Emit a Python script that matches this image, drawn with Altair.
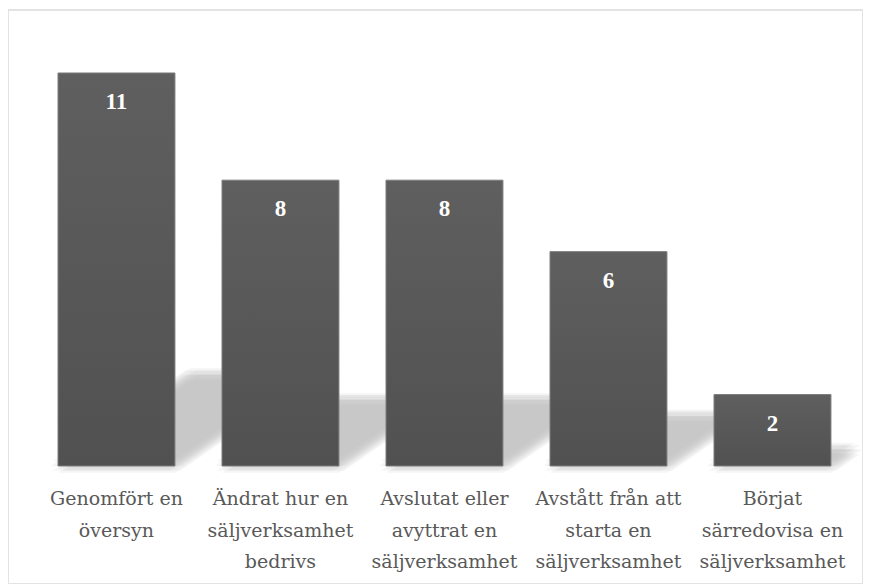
import altair as alt
import pandas as pd

categories = [
    "Genomfört en översyn",
    "Ändrat hur en säljverksamhet bedrivs",
    "Avslutat eller avyttrat en säljverksamhet",
    "Avstått från att starta en säljverksamhet",
    "Börjat särredovisa en säljverksamhet",
]
label_lines = [
    ["Genomfört en", "översyn"],
    ["Ändrat hur en", "säljverksamhet", "bedrivs"],
    ["Avslutat eller", "avyttrat en", "säljverksamhet"],
    ["Avstått från att", "starta en", "säljverksamhet"],
    ["Börjat", "särredovisa en", "säljverksamhet"],
]
values = [11, 8, 8, 6, 2]

# ---- layout: each category occupies [i, i + bar_frac] on a position scale ----
W, H = 855, 574
bar_frac = 0.713
u_domain = [-0.3049, 4.9085]
y_domain = [-3.3026, 12.763]

df = pd.DataFrame({
    "cat": categories,
    "value": values,
    "label": ["\n".join(l) for l in label_lines],
    "pos": list(range(len(categories))),
})
df["pos_end"] = df["pos"] + bar_frac
df["pos_mid"] = df["pos"] + bar_frac / 2

# ---- decorative soft shadow, derived from the values ----
shadow_h = 0.232    # shadow height per unit value (y units)
shadow_s = 0.0735   # shadow skew per unit value (position units)
blur = [(0, 0),
        (0.022, 0), (-0.022, 0), (0, 0.09), (0, -0.09),
        (0.045, 0), (-0.045, 0), (0, 0.19), (0, -0.19),
        (0.032, 0.13), (-0.032, -0.13), (0.032, -0.13), (-0.032, 0.13)]
rows = []
for i, v in enumerate(values):
    L, R = i, i + bar_frac
    h, s = shadow_h * v, shadow_s * v
    for k, (ox, oy) in enumerate(blur):
        for xx in sorted({L, R, L + s, R + s}):
            top = min(h, max(0.0, (xx - L) / s * h))
            bot = max(0.0, min(h, (xx - R) / s * h))
            rows.append({"u": xx + ox, "top": top + oy, "bot": bot + oy,
                         "grp": f"{i}-{k}"})
shadow_df = pd.DataFrame(rows)

x_scale = alt.Scale(domain=u_domain, nice=False, zero=False)
y_scale = alt.Scale(domain=y_domain, nice=False, zero=False)

shadow = alt.Chart(shadow_df).mark_area(
    color="#c4c4c4", opacity=0.15, interpolate="linear", orient="vertical"
).encode(
    x=alt.X("u:Q", axis=None, scale=x_scale),
    y=alt.Y("top:Q", scale=y_scale, axis=None, stack=None),
    y2="bot:Q",
    detail="grp:N",
)

bar_fill = alt.Gradient(
    gradient="linear",
    stops=[alt.GradientStop(color="#5f5f5f", offset=0),
           alt.GradientStop(color="#515151", offset=1)],
    x1=0, x2=0, y1=0, y2=1,
)

bars = alt.Chart(df).mark_rect(
    color=bar_fill, stroke="#7c7c7c", strokeWidth=1
).encode(
    x=alt.X("pos:Q", axis=None, scale=x_scale),
    x2="pos_end:Q",
    y=alt.Y("value:Q", scale=y_scale, axis=None),
    y2=alt.datum(0),
)

value_text = alt.Chart(df).mark_text(
    color="white", font="Liberation Serif", fontWeight="bold",
    fontSize=23, baseline="middle", dy=29,
).encode(
    x=alt.X("pos_mid:Q", axis=None, scale=x_scale),
    y=alt.Y("value:Q", scale=y_scale, axis=None),
    text="value:Q",
)

cat_text = alt.Chart(df).mark_text(
    font="DejaVu Serif", fontSize=19, color="#595959",
    lineBreak="\n", lineHeight=31.5, baseline="alphabetic",
).encode(
    x=alt.X("pos_mid:Q", axis=None, scale=x_scale),
    y=alt.datum(-1.105),
    text="label:N",
)

chart = alt.layer(shadow, bars, value_text, cat_text).properties(
    width=W, height=H,
    padding={"left": 0, "top": 2, "right": 0, "bottom": 0},
).configure_view(stroke="#e3e3e3", strokeWidth=2)

chart.save("out.html", embed_options={"renderer": "svg", "actions": False})
